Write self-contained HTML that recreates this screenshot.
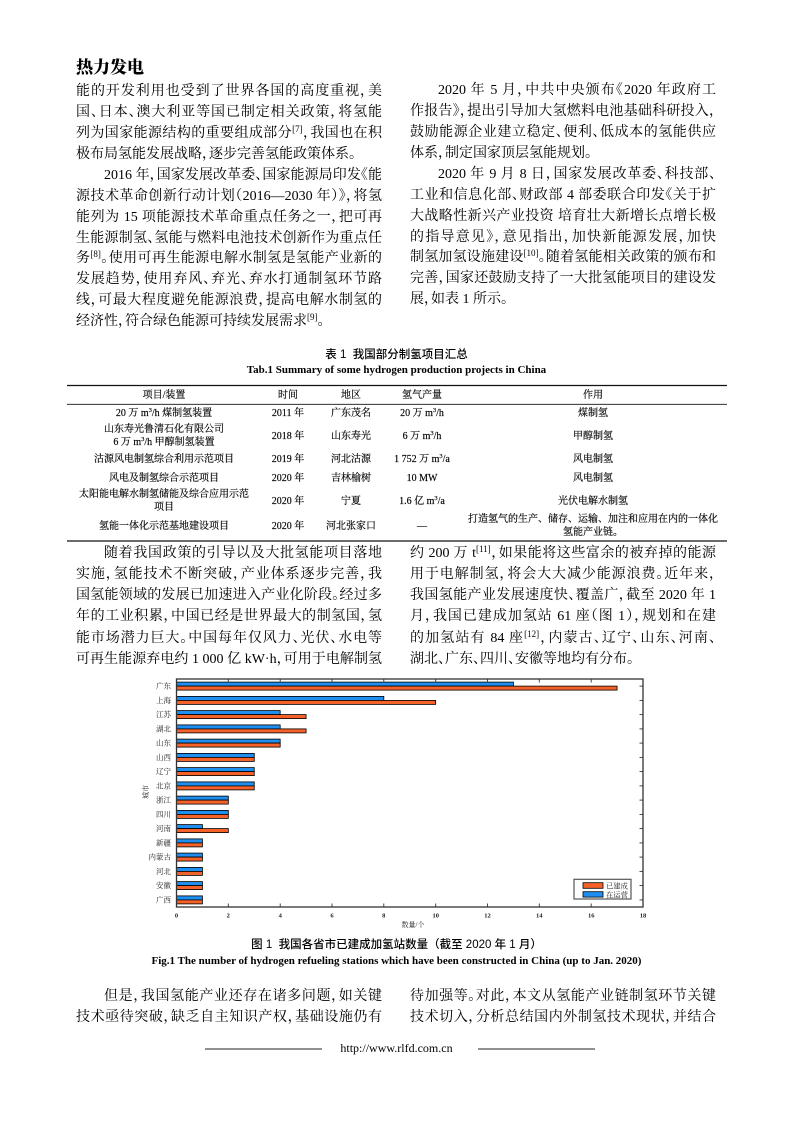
<!DOCTYPE html>
<html>
<head>
<meta charset="utf-8">
<style>
  html,body{margin:0;padding:0;background:#fff;}
  #page{position:relative;width:793px;height:1122px;overflow:hidden;background:#fff;color:#000;
    font-family:"Liberation Serif","Noto Serif CJK SC",serif;}
  .ln{position:absolute;height:21px;line-height:21px;font-size:14px;text-align:justify;text-align-last:justify;
    font-feature-settings:"halt";box-sizing:border-box;width:306px;white-space:normal;}
  .l{left:76px;}
  .r{left:410px;}
  .ind{padding-left:28px;}
  .last{text-align-last:left;}
  sup{font-size:9px;line-height:0;vertical-align:5px;}
  .tc{position:absolute;width:300px;text-align:center;font-size:10px;line-height:12px;white-space:nowrap;color:#000;-webkit-text-stroke:0.15px #000;}
  .tc sup{font-size:6.5px;vertical-align:4px;}
  .cap{position:absolute;left:0;width:793px;text-align:center;white-space:nowrap;}
</style>
</head>
<body>
<div id="page">

<svg width="793" height="1122" style="position:absolute;left:0;top:0" font-family="Liberation Serif, Noto Serif CJK SC, serif">
  <!-- table rules -->
  <line x1="67" x2="727" y1="385.5" y2="385.5" stroke="#111" stroke-width="1.3"/>
  <line x1="67" x2="727" y1="404.3" y2="404.3" stroke="#111" stroke-width="0.9"/>
  <line x1="67" x2="727" y1="541" y2="541" stroke="#111" stroke-width="1.3"/>
  <!-- footer lines -->
  <line x1="205" x2="322" y1="1049" y2="1049" stroke="#222" stroke-width="1"/>
  <line x1="478" x2="595" y1="1049" y2="1049" stroke="#222" stroke-width="1"/>

  <!-- chart bars -->
  <g stroke="#000" stroke-width="0.8">
    <rect x="176.5" y="682.1" width="336.92" height="4" fill="#1e8ef0"/>
    <rect x="176.5" y="686.1" width="440.58" height="4" fill="#f4622a"/>
    <rect x="176.5" y="696.4" width="207.33" height="4" fill="#1e8ef0"/>
    <rect x="176.5" y="700.4" width="259.17" height="4" fill="#f4622a"/>
    <rect x="176.5" y="710.6" width="103.67" height="4" fill="#1e8ef0"/>
    <rect x="176.5" y="714.6" width="129.58" height="4" fill="#f4622a"/>
    <rect x="176.5" y="724.9" width="103.67" height="4" fill="#1e8ef0"/>
    <rect x="176.5" y="728.9" width="129.58" height="4" fill="#f4622a"/>
    <rect x="176.5" y="739.1" width="103.67" height="4" fill="#1e8ef0"/>
    <rect x="176.5" y="743.1" width="103.67" height="4" fill="#f4622a"/>
    <rect x="176.5" y="753.4" width="77.75" height="4" fill="#1e8ef0"/>
    <rect x="176.5" y="757.4" width="77.75" height="4" fill="#f4622a"/>
    <rect x="176.5" y="767.6" width="77.75" height="4" fill="#1e8ef0"/>
    <rect x="176.5" y="771.6" width="77.75" height="4" fill="#f4622a"/>
    <rect x="176.5" y="781.9" width="77.75" height="4" fill="#1e8ef0"/>
    <rect x="176.5" y="785.9" width="77.75" height="4" fill="#f4622a"/>
    <rect x="176.5" y="796.1" width="51.83" height="4" fill="#1e8ef0"/>
    <rect x="176.5" y="800.1" width="51.83" height="4" fill="#f4622a"/>
    <rect x="176.5" y="810.4" width="51.83" height="4" fill="#1e8ef0"/>
    <rect x="176.5" y="814.4" width="51.83" height="4" fill="#f4622a"/>
    <rect x="176.5" y="824.6" width="25.92" height="4" fill="#1e8ef0"/>
    <rect x="176.5" y="828.6" width="51.83" height="4" fill="#f4622a"/>
    <rect x="176.5" y="838.9" width="25.92" height="4" fill="#1e8ef0"/>
    <rect x="176.5" y="842.9" width="25.92" height="4" fill="#f4622a"/>
    <rect x="176.5" y="853.1" width="25.92" height="4" fill="#1e8ef0"/>
    <rect x="176.5" y="857.1" width="25.92" height="4" fill="#f4622a"/>
    <rect x="176.5" y="867.4" width="25.92" height="4" fill="#1e8ef0"/>
    <rect x="176.5" y="871.4" width="25.92" height="4" fill="#f4622a"/>
    <rect x="176.5" y="881.6" width="25.92" height="4" fill="#1e8ef0"/>
    <rect x="176.5" y="885.6" width="25.92" height="4" fill="#f4622a"/>
    <rect x="176.5" y="895.9" width="25.92" height="4" fill="#1e8ef0"/>
    <rect x="176.5" y="899.9" width="25.92" height="4" fill="#f4622a"/>
  </g>

  <!-- frame -->
  <rect x="176.5" y="679" width="466.5" height="228" fill="none" stroke="#333" stroke-width="1.3"/>
  <!-- ticks -->
  <g stroke="#333" stroke-width="0.9">
    <line x1="228.3" x2="228.3" y1="679" y2="682.5"/><line x1="228.3" x2="228.3" y1="907" y2="903.5"/>
    <line x1="280.2" x2="280.2" y1="679" y2="682.5"/><line x1="280.2" x2="280.2" y1="907" y2="903.5"/>
    <line x1="332" x2="332" y1="679" y2="682.5"/><line x1="332" x2="332" y1="907" y2="903.5"/>
    <line x1="383.8" x2="383.8" y1="679" y2="682.5"/><line x1="383.8" x2="383.8" y1="907" y2="903.5"/>
    <line x1="435.7" x2="435.7" y1="679" y2="682.5"/><line x1="435.7" x2="435.7" y1="907" y2="903.5"/>
    <line x1="487.5" x2="487.5" y1="679" y2="682.5"/><line x1="487.5" x2="487.5" y1="907" y2="903.5"/>
    <line x1="539.3" x2="539.3" y1="679" y2="682.5"/><line x1="539.3" x2="539.3" y1="907" y2="903.5"/>
    <line x1="591.2" x2="591.2" y1="679" y2="682.5"/><line x1="591.2" x2="591.2" y1="907" y2="903.5"/>
    <line x1="643" x2="639.5" y1="686.1" y2="686.1"/>
    <line x1="643" x2="639.5" y1="700.4" y2="700.4"/>
    <line x1="643" x2="639.5" y1="714.6" y2="714.6"/>
    <line x1="643" x2="639.5" y1="728.9" y2="728.9"/>
    <line x1="643" x2="639.5" y1="743.1" y2="743.1"/>
    <line x1="643" x2="639.5" y1="757.4" y2="757.4"/>
    <line x1="643" x2="639.5" y1="771.6" y2="771.6"/>
    <line x1="643" x2="639.5" y1="785.9" y2="785.9"/>
    <line x1="643" x2="639.5" y1="800.1" y2="800.1"/>
    <line x1="643" x2="639.5" y1="814.4" y2="814.4"/>
    <line x1="643" x2="639.5" y1="828.6" y2="828.6"/>
    <line x1="643" x2="639.5" y1="842.9" y2="842.9"/>
    <line x1="643" x2="639.5" y1="857.1" y2="857.1"/>
    <line x1="643" x2="639.5" y1="871.4" y2="871.4"/>
    <line x1="643" x2="639.5" y1="885.6" y2="885.6"/>
    <line x1="643" x2="639.5" y1="899.9" y2="899.9"/>
  </g>

  <!-- x tick labels -->
  <g font-size="6.5" text-anchor="middle" fill="#222" font-weight="bold">
    <text x="176.5" y="917.5">0</text>
    <text x="228.3" y="917.5">2</text>
    <text x="280.2" y="917.5">4</text>
    <text x="332" y="917.5">6</text>
    <text x="383.8" y="917.5">8</text>
    <text x="435.7" y="917.5">10</text>
    <text x="487.5" y="917.5">12</text>
    <text x="539.3" y="917.5">14</text>
    <text x="591.2" y="917.5">16</text>
    <text x="643" y="917.5">18</text>
  </g>
  <text x="413" y="927" font-size="7" text-anchor="middle" fill="#222">数量/个</text>

  <!-- category labels -->
  <g font-size="7.5" text-anchor="end" fill="#222">
    <text x="171" y="688.7">广东</text>
    <text x="171" y="703">上海</text>
    <text x="171" y="717.2">江苏</text>
    <text x="171" y="731.5">湖北</text>
    <text x="171" y="745.7">山东</text>
    <text x="171" y="760">山西</text>
    <text x="171" y="774.2">辽宁</text>
    <text x="171" y="788.5">北京</text>
    <text x="171" y="802.7">浙江</text>
    <text x="171" y="817">四川</text>
    <text x="171" y="831.2">河南</text>
    <text x="171" y="845.5">新疆</text>
    <text x="171" y="859.7">内蒙古</text>
    <text x="171" y="874">河北</text>
    <text x="171" y="888.2">安徽</text>
    <text x="171" y="902.5">广西</text>
  </g>
  <text x="0" y="0" font-size="7" fill="#222" text-anchor="middle" transform="translate(148,792) rotate(-90)">城市</text>

  <!-- legend -->
  <rect x="574" y="879.3" width="57" height="19.7" fill="#fff" stroke="#555" stroke-width="1.2"/>
  <rect x="583" y="882.7" width="20" height="5.6" fill="#f4622a" stroke="#000" stroke-width="0.8"/>
  <rect x="583" y="891.7" width="20" height="5.4" fill="#1e8ef0" stroke="#000" stroke-width="0.8"/>
  <text x="606" y="888.5" font-size="7.3" fill="#222">已建成</text>
  <text x="606" y="897.5" font-size="7.3" fill="#222">在运营</text>
</svg>

<!-- header logo -->
<div style="position:absolute;left:76px;top:55px;font-family:'Noto Serif CJK SC',serif;font-weight:900;font-size:17px;line-height:22px;color:#000;">热力发电</div>

<!-- Left column top -->
<div class="ln l" style="top:81.2px">能的开发利用也受到了世界各国的高度重视，美</div>
<div class="ln l" style="top:102.1px">国、日本、澳大利亚等国已制定相关政策，将氢能</div>
<div class="ln l" style="top:123px">列为国家能源结构的重要组成部分<sup>[7]</sup>，我国也在积</div>
<div class="ln l last" style="top:143.9px">极布局氢能发展战略，逐步完善氢能政策体系。</div>
<div class="ln l ind" style="top:164.8px">2016 年，国家发展改革委、国家能源局印发《能</div>
<div class="ln l" style="top:185.7px">源技术革命创新行动计划（2016—2030 年）》，将氢</div>
<div class="ln l" style="top:206.6px">能列为 15 项能源技术革命重点任务之一，把可再</div>
<div class="ln l" style="top:227.5px">生能源制氢、氢能与燃料电池技术创新作为重点任</div>
<div class="ln l" style="top:248.4px">务<sup>[8]</sup>。使用可再生能源电解水制氢是氢能产业新的</div>
<div class="ln l" style="top:269.3px">发展趋势，使用弃风、弃光、弃水打通制氢环节路</div>
<div class="ln l" style="top:290.2px">线，可最大程度避免能源浪费，提高电解水制氢的</div>
<div class="ln l last" style="top:311.1px">经济性，符合绿色能源可持续发展需求<sup>[9]</sup>。</div>

<!-- Right column top -->
<div class="ln r ind" style="top:80.2px">2020 年 5 月，中共中央颁布《2020 年政府工</div>
<div class="ln r" style="top:101.1px">作报告》，提出引导加大氢燃料电池基础科研投入，</div>
<div class="ln r" style="top:122px">鼓励能源企业建立稳定、便利、低成本的氢能供应</div>
<div class="ln r last" style="top:142.9px">体系，制定国家顶层氢能规划。</div>
<div class="ln r ind" style="top:163.8px">2020 年 9 月 8 日，国家发展改革委、科技部、</div>
<div class="ln r" style="top:184.7px">工业和信息化部、财政部 4 部委联合印发《关于扩</div>
<div class="ln r" style="top:205.6px">大战略性新兴产业投资 培育壮大新增长点增长极</div>
<div class="ln r" style="top:226.5px">的指导意见》，意见指出，加快新能源发展，加快</div>
<div class="ln r" style="top:247.4px">制氢加氢设施建设<sup>[10]</sup>。随着氢能相关政策的颁布和</div>
<div class="ln r" style="top:268.3px">完善，国家还鼓励支持了一大批氢能项目的建设发</div>
<div class="ln r last" style="top:289.2px">展，如表 1 所示。</div>

<!-- Table caption -->
<div class="cap" style="top:348px;font-family:'Liberation Sans','Noto Sans CJK SC',sans-serif;font-weight:500;font-size:11.5px;line-height:15px;">表 1&nbsp; 我国部分制氢项目汇总</div>
<div class="cap" style="top:363px;font-weight:bold;font-size:11px;line-height:15px;">Tab.1 Summary of some hydrogen production projects in China</div>

<!-- Table header -->
<div class="tc" style="left:14px;top:389.5px">项目/装置</div>
<div class="tc" style="left:138px;top:389.5px">时间</div>
<div class="tc" style="left:201px;top:389.5px">地区</div>
<div class="tc" style="left:272px;top:389.5px">氢气产量</div>
<div class="tc" style="left:443px;top:389.5px">作用</div>

<!-- Row 1 -->
<div class="tc" style="left:14px;top:408px">20 万 m<sup>3</sup>/h 煤制氢装置</div>
<div class="tc" style="left:138px;top:408px">2011 年</div>
<div class="tc" style="left:201px;top:408px">广东茂名</div>
<div class="tc" style="left:272px;top:408px">20 万 m<sup>3</sup>/h</div>
<div class="tc" style="left:443px;top:408px">煤制氢</div>

<!-- Row 2 -->
<div class="tc" style="left:14px;top:423.5px">山东寿光鲁清石化有限公司</div>
<div class="tc" style="left:14px;top:437px">6 万 m<sup>3</sup>/h 甲醇制氢装置</div>
<div class="tc" style="left:138px;top:431px">2018 年</div>
<div class="tc" style="left:201px;top:431px">山东寿光</div>
<div class="tc" style="left:272px;top:431px">6 万 m<sup>3</sup>/h</div>
<div class="tc" style="left:443px;top:431px">甲醇制氢</div>

<!-- Row 3 -->
<div class="tc" style="left:14px;top:453.5px">沽源风电制氢综合利用示范项目</div>
<div class="tc" style="left:138px;top:453.5px">2019 年</div>
<div class="tc" style="left:201px;top:453.5px">河北沽源</div>
<div class="tc" style="left:272px;top:453.5px">1 752 万 m<sup>3</sup>/a</div>
<div class="tc" style="left:443px;top:453.5px">风电制氢</div>

<!-- Row 4 -->
<div class="tc" style="left:14px;top:472.5px">风电及制氢综合示范项目</div>
<div class="tc" style="left:138px;top:472.5px">2020 年</div>
<div class="tc" style="left:201px;top:472.5px">吉林榆树</div>
<div class="tc" style="left:272px;top:472.5px">10 MW</div>
<div class="tc" style="left:443px;top:472.5px">风电制氢</div>

<!-- Row 5 -->
<div class="tc" style="left:14px;top:489px">太阳能电解水制氢储能及综合应用示范</div>
<div class="tc" style="left:14px;top:502px">项目</div>
<div class="tc" style="left:138px;top:495.5px">2020 年</div>
<div class="tc" style="left:201px;top:495.5px">宁夏</div>
<div class="tc" style="left:272px;top:495.5px">1.6 亿 m<sup>3</sup>/a</div>
<div class="tc" style="left:443px;top:495.5px">光伏电解水制氢</div>

<!-- Row 6 -->
<div class="tc" style="left:14px;top:521px">氢能一体化示范基地建设项目</div>
<div class="tc" style="left:138px;top:521px">2020 年</div>
<div class="tc" style="left:201px;top:521px">河北张家口</div>
<div class="tc" style="left:272px;top:521px">—</div>
<div class="tc" style="left:443px;top:514px">打造氢气的生产、储存、运输、加注和应用在内的一体化</div>
<div class="tc" style="left:443px;top:527px">氢能产业链。</div>

<!-- Lower left -->
<div class="ln l ind" style="top:542.8px">随着我国政策的引导以及大批氢能项目落地</div>
<div class="ln l" style="top:564px">实施，氢能技术不断突破，产业体系逐步完善，我</div>
<div class="ln l" style="top:585.2px">国氢能领域的发展已加速进入产业化阶段。经过多</div>
<div class="ln l" style="top:606.4px">年的工业积累，中国已经是世界最大的制氢国，氢</div>
<div class="ln l" style="top:627.6px">能市场潜力巨大。中国每年仅风力、光伏、水电等</div>
<div class="ln l" style="top:648.8px">可再生能源弃电约 1 000 亿 kW·h，可用于电解制氢</div>

<!-- Lower right -->
<div class="ln r" style="top:542.8px">约 200 万 t<sup>[11]</sup>，如果能将这些富余的被弃掉的能源</div>
<div class="ln r" style="top:564px">用于电解制氢，将会大大减少能源浪费。近年来，</div>
<div class="ln r" style="top:585.2px">我国氢能产业发展速度快、覆盖广，截至 2020 年 1</div>
<div class="ln r" style="top:606.4px">月，我国已建成加氢站 61 座（图 1），规划和在建</div>
<div class="ln r" style="top:627.6px">的加氢站有 84 座<sup>[12]</sup>，内蒙古、辽宁、山东、河南、</div>
<div class="ln r last" style="top:648.8px">湖北、广东、四川、安徽等地均有分布。</div>

<!-- Figure caption -->
<div class="cap" style="top:938px;font-family:'Liberation Sans','Noto Sans CJK SC',sans-serif;font-weight:500;font-size:11.5px;line-height:15px;">图 1&nbsp; 我国各省市已建成加氢站数量（截至 2020 年 1 月）</div>
<div class="cap" style="top:953.5px;font-weight:bold;font-size:11px;line-height:15px;">Fig.1 The number of hydrogen refueling stations which have been constructed in China (up to Jan. 2020)</div>

<!-- Bottom text -->
<div class="ln l ind" style="top:986.2px">但是，我国氢能产业还存在诸多问题，如关键</div>
<div class="ln l" style="top:1006.8px">技术亟待突破，缺乏自主知识产权，基础设施仍有</div>
<div class="ln r" style="top:986.2px">待加强等。对此，本文从氢能产业链制氢环节关键</div>
<div class="ln r" style="top:1006.8px">技术切入，分析总结国内外制氢技术现状，并结合</div>

<!-- Footer -->
<div class="cap" style="top:1041px;font-size:12px;line-height:15px;">http://www.rlfd.com.cn</div>

</div>
</body>
</html>
